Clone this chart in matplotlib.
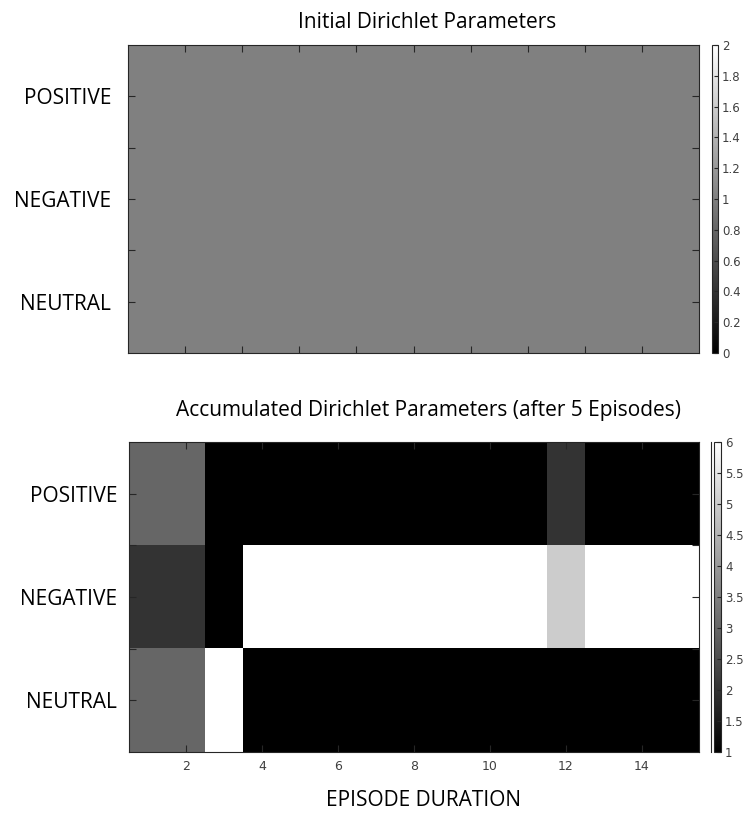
import numpy as np
import matplotlib
matplotlib.use('Agg')
import matplotlib.pyplot as plt
from matplotlib.lines import Line2D

W, H = 744, 813

categories = ['POSITIVE', 'NEGATIVE', 'NEUTRAL']
steps = list(range(1, 16))

# initial dirichlet counts (rows = outcome, cols = episode step)
initial_pos = [1, 1, 1, 1, 1, 1, 1, 1, 1, 1, 1, 1, 1, 1, 1]
initial_neg = [1, 1, 1, 1, 1, 1, 1, 1, 1, 1, 1, 1, 1, 1, 1]
initial_neu = [1, 1, 1, 1, 1, 1, 1, 1, 1, 1, 1, 1, 1, 1, 1]

# accumulated counts after 5 episodes
accum_pos = [3, 3, 1, 1, 1, 1, 1, 1, 1, 1, 1, 2, 1, 1, 1]
accum_neg = [2, 2, 1, 6, 6, 6, 6, 6, 6, 6, 6, 5, 6, 6, 6]
accum_neu = [3, 3, 6, 1, 1, 1, 1, 1, 1, 1, 1, 1, 1, 1, 1]

top_ticks = [0, 0.2, 0.4, 0.6, 0.8, 1, 1.2, 1.4, 1.6, 1.8, 2]
bot_ticks = [1, 1.5, 2, 2.5, 3, 3.5, 4, 4.5, 5, 5.5, 6]
x_ticks = [2, 4, 6, 8, 10, 12, 14]

axcol = '#262626'
lblfont = 'Open Sans'
big = 15


def px(x0, y0, x1, y1):
    # pixel box (top-left origin) -> figure fraction rect
    return [x0 / W, 1 - y1 / H, (x1 - x0) / W, (y1 - y0) / H]


def heat(ax, data, vmin, vmax, pad):
    n = data.shape[1]
    im = ax.imshow(data, cmap='gray', vmin=vmin, vmax=vmax, aspect='auto',
                   interpolation='nearest',
                   extent=(0.5, n + 0.5, len(categories) + 0.5, 0.5))
    ax.set_yticks(range(1, len(categories) + 1))
    ax.set_yticklabels(categories, fontsize=big, family=lblfont, color='black')
    ax.set_yticks([1.5, 2.5], minor=True)
    ax.tick_params(axis='both', which='both', direction='in', length=5,
                   width=0.8, color=axcol, top=True, right=True)
    ax.tick_params(axis='y', pad=pad)
    ax.tick_params(axis='x', labelsize=9, labelcolor='#404040', pad=6)
    for s in ax.spines.values():
        s.set_color(axcol)
        s.set_linewidth(0.8)
    return im


def cbar(fig, im, rect, ticks):
    cax = fig.add_axes(rect)
    cb = fig.colorbar(im, cax=cax, ticks=ticks)
    cb.ax.set_yticklabels(['%g' % t for t in ticks])
    cb.ax.tick_params(direction='in', length=3, width=0.8, color=axcol,
                      labelsize=8.5, labelcolor='#404040', pad=3)
    cb.outline.set_edgecolor(axcol)
    cb.outline.set_linewidth(0.8)
    return cb


fig = plt.figure(figsize=(W / 100, H / 100), dpi=100)

# top panel
ax1 = fig.add_axes(px(128, 45, 699, 353))
im1 = heat(ax1, np.array([initial_pos, initial_neg, initial_neu]), 0, 2, 12)
ax1.set_xticks(np.arange(2, 15, 1.5))
ax1.set_xticklabels([])
cbar(fig, im1, px(712, 45, 718, 353), top_ticks)
fig.text(427 / W, 1 - 22 / H, 'Initial Dirichlet Parameters', ha='center',
         va='center', fontsize=big, family=lblfont)

# bottom panel
ax2 = fig.add_axes(px(129, 442, 699, 752))
im2 = heat(ax2, np.array([accum_pos, accum_neg, accum_neu]), 1, 6, 8.5)
ax2.set_xticks(x_ticks)
cbar(fig, im2, px(714, 442, 721, 752), bot_ticks)
fig.add_artist(Line2D([711 / W, 711 / W], [1 - 442 / H, 1 - 752 / H],
                      color=axcol, lw=0.8, transform=fig.transFigure))
fig.text(428 / W, 1 - 410 / H, 'Accumulated Dirichlet Parameters (after 5 Episodes)',
         ha='center', va='center', fontsize=big, family=lblfont)
fig.text(423 / W, 1 - 800 / H, 'EPISODE DURATION', ha='center', va='center',
         fontsize=big, family=lblfont)

fig.savefig('out.png', dpi=100)
